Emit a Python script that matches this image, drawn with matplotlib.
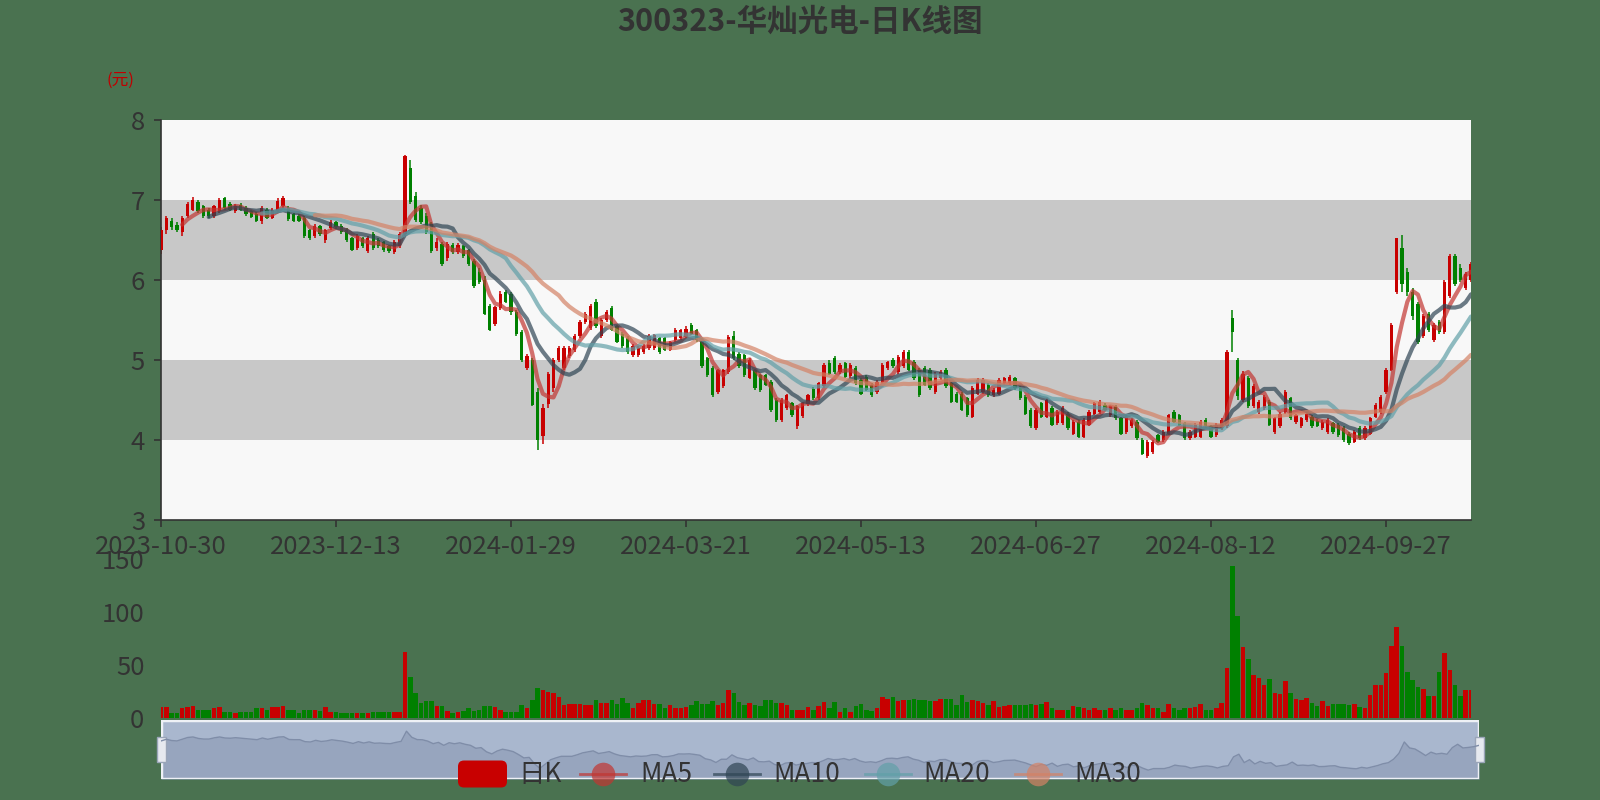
import matplotlib
matplotlib.use("Agg")
import matplotlib.pyplot as plt
from matplotlib.patches import Rectangle, FancyBboxPatch
from matplotlib.lines import Line2D
from matplotlib.transforms import IdentityTransform
import numpy as np
import pandas as pd

plt.rcParams['font.family'] = ['Noto Sans CJK SC', 'DejaVu Sans']

TITLE = "300323-华灿光电-日K线图"
tick_labels = ["2023-10-30", "2023-12-13", "2024-01-29", "2024-03-21",
               "2024-05-13", "2024-06-27", "2024-08-12", "2024-09-27"]
tick_step = 33

opens = [
    6.38, 6.62, 6.74, 6.69, 6.60, 6.80, 6.88, 6.98, 6.92, 6.88,
    6.80, 6.86, 7.02, 6.95, 6.86, 6.94, 6.90, 6.86, 6.83, 6.74,
    6.88, 6.78, 6.86, 6.92, 6.90, 6.82, 6.80, 6.78, 6.62, 6.55,
    6.67, 6.50, 6.65, 6.72, 6.68, 6.63, 6.52, 6.40, 6.52, 6.36,
    6.58, 6.50, 6.47, 6.42, 6.35, 6.42, 6.58, 7.40, 7.05, 6.90,
    6.80, 6.70, 6.40, 6.45, 6.27, 6.44, 6.35, 6.42, 6.37, 6.24,
    6.10, 6.00, 5.68, 5.45, 5.65, 5.85, 5.83, 5.60, 5.35, 4.90,
    5.00, 4.60, 4.05, 4.45, 4.65, 5.00, 4.90, 5.05, 5.12, 5.30,
    5.48, 5.40, 5.72, 5.30, 5.50, 5.65, 5.42, 5.33, 5.28, 5.06,
    5.06, 5.10, 5.15, 5.15, 5.27, 5.27, 5.13, 5.25, 5.27, 5.29,
    5.44, 5.37, 5.25, 5.02, 4.90, 4.60, 4.67, 4.85, 5.30, 5.08,
    5.06, 4.78, 4.87, 4.81, 4.81, 4.73, 4.50, 4.25, 4.40, 4.46,
    4.18, 4.30, 4.45, 4.64, 4.52, 4.67, 4.96, 5.02, 4.85, 4.96,
    4.80, 4.90, 4.75, 4.79, 4.69, 4.60, 4.73, 4.90, 5.00, 4.85,
    4.92, 5.10, 4.98, 4.88, 4.90, 4.88, 4.60, 4.77, 4.88, 4.71,
    4.58, 4.58, 4.52, 4.29, 4.58, 4.60, 4.69, 4.56, 4.58, 4.71,
    4.71, 4.77, 4.65, 4.54, 4.38, 4.15, 4.46, 4.29, 4.40, 4.21,
    4.21, 4.33, 4.08, 4.23, 4.04, 4.19, 4.33, 4.35, 4.44, 4.31,
    4.42, 4.27, 4.10, 4.17, 4.23, 4.00, 3.80, 3.85, 4.06, 4.00,
    4.08, 4.35, 4.31, 4.21, 4.02, 4.04, 4.04, 4.25, 4.17, 4.06,
    4.15, 4.18, 5.52, 5.00, 4.50, 4.77, 4.42, 4.35, 4.40, 4.48,
    4.10, 4.17, 4.35, 4.52, 4.22, 4.17, 4.25, 4.29, 4.24, 4.15,
    4.10, 4.21, 4.19, 4.15, 4.08, 3.98, 4.15, 4.02, 4.08, 4.29,
    4.35, 4.60, 4.88, 5.85, 6.40, 6.10, 5.85, 5.70, 5.30, 5.58,
    5.25, 5.48, 5.35, 5.80, 6.30, 6.15, 5.90, 6.00,
]
closes = [
    6.62, 6.78, 6.66, 6.62, 6.78, 6.95, 7.00, 6.86, 6.80, 6.80,
    6.92, 7.00, 6.90, 6.88, 6.93, 6.88, 6.82, 6.79, 6.74, 6.90,
    6.78, 6.88, 6.99, 7.02, 6.76, 6.74, 6.74, 6.55, 6.52, 6.68,
    6.57, 6.62, 6.73, 6.66, 6.60, 6.50, 6.38, 6.55, 6.42, 6.53,
    6.40, 6.42, 6.38, 6.36, 6.48, 6.58, 7.55, 6.97, 6.75, 6.73,
    6.60, 6.36, 6.48, 6.20, 6.45, 6.35, 6.44, 6.30, 6.20, 5.92,
    5.98, 5.58, 5.38, 5.66, 5.83, 5.73, 5.60, 5.32, 5.00, 5.05,
    4.44, 4.00, 4.40, 4.82, 5.00, 5.15, 5.15, 5.15, 5.30, 5.48,
    5.57, 5.67, 5.42, 5.50, 5.60, 5.38, 5.23, 5.17, 5.10, 5.18,
    5.15, 5.18, 5.30, 5.31, 5.10, 5.13, 5.22, 5.38, 5.37, 5.39,
    5.33, 5.25, 4.92, 4.81, 4.56, 4.87, 4.87, 5.29, 5.02, 4.92,
    4.81, 5.00, 4.65, 4.62, 4.69, 4.37, 4.25, 4.50, 4.56, 4.31,
    4.42, 4.46, 4.56, 4.52, 4.71, 4.94, 4.83, 4.85, 4.94, 4.79,
    4.94, 4.71, 4.58, 4.63, 4.56, 4.73, 4.94, 4.97, 4.92, 5.04,
    5.10, 4.88, 4.77, 4.56, 4.69, 4.65, 4.83, 4.85, 4.67, 4.48,
    4.48, 4.38, 4.31, 4.65, 4.75, 4.75, 4.56, 4.63, 4.75, 4.77,
    4.79, 4.65, 4.52, 4.33, 4.17, 4.38, 4.29, 4.50, 4.19, 4.35,
    4.40, 4.15, 4.23, 4.04, 4.25, 4.35, 4.46, 4.48, 4.38, 4.42,
    4.27, 4.08, 4.29, 4.25, 4.02, 3.83, 3.98, 3.98, 3.98, 4.10,
    4.31, 4.23, 4.19, 4.02, 4.10, 4.19, 4.23, 4.17, 4.04, 4.19,
    4.25, 5.10, 5.35, 4.55, 4.83, 4.42, 4.67, 4.48, 4.54, 4.19,
    4.27, 4.33, 4.60, 4.28, 4.31, 4.27, 4.33, 4.17, 4.18, 4.23,
    4.25, 4.10, 4.06, 4.00, 3.96, 4.10, 4.02, 4.15, 4.27, 4.44,
    4.54, 4.88, 5.44, 6.52, 5.95, 5.85, 5.55, 5.22, 5.55, 5.37,
    5.44, 5.35, 5.98, 6.30, 5.95, 6.00, 6.07, 6.20,
]
highs = [
    6.66, 6.80, 6.77, 6.72, 6.80, 6.98, 7.04, 7.00, 6.94, 6.90,
    6.94, 7.03, 7.04, 6.97, 6.95, 6.96, 6.92, 6.88, 6.85, 6.92,
    6.90, 6.90, 7.02, 7.05, 6.92, 6.84, 6.82, 6.80, 6.64, 6.70,
    6.69, 6.64, 6.75, 6.74, 6.70, 6.65, 6.54, 6.57, 6.54, 6.55,
    6.60, 6.52, 6.49, 6.44, 6.50, 6.60, 7.56, 7.50, 7.10, 6.94,
    6.84, 6.72, 6.52, 6.47, 6.47, 6.46, 6.46, 6.44, 6.39, 6.26,
    6.15, 6.05, 5.70, 5.68, 5.86, 5.87, 5.85, 5.62, 5.37, 5.08,
    5.02, 4.65, 4.45, 4.85, 5.02, 5.17, 5.17, 5.18, 5.32, 5.50,
    5.60, 5.70, 5.76, 5.52, 5.63, 5.67, 5.44, 5.35, 5.30, 5.20,
    5.17, 5.20, 5.32, 5.33, 5.29, 5.29, 5.24, 5.40, 5.39, 5.42,
    5.46, 5.39, 5.27, 5.04, 4.92, 4.89, 4.89, 5.31, 5.36, 5.10,
    5.08, 5.02, 4.89, 4.83, 4.83, 4.75, 4.52, 4.52, 4.58, 4.48,
    4.44, 4.48, 4.58, 4.66, 4.73, 4.96, 5.00, 5.05, 4.96, 4.98,
    4.96, 4.92, 4.77, 4.81, 4.71, 4.75, 4.96, 4.99, 5.02, 5.06,
    5.12, 5.12, 5.00, 4.90, 4.92, 4.90, 4.85, 4.87, 4.90, 4.73,
    4.60, 4.60, 4.54, 4.67, 4.77, 4.77, 4.71, 4.65, 4.77, 4.79,
    4.81, 4.79, 4.67, 4.56, 4.40, 4.40, 4.48, 4.52, 4.42, 4.37,
    4.42, 4.35, 4.25, 4.25, 4.27, 4.37, 4.48, 4.50, 4.46, 4.44,
    4.44, 4.29, 4.31, 4.27, 4.25, 4.02, 4.00, 4.00, 4.08, 4.12,
    4.33, 4.37, 4.33, 4.23, 4.12, 4.21, 4.25, 4.27, 4.19, 4.21,
    4.27, 5.12, 5.62, 5.02, 4.86, 4.80, 4.70, 4.50, 4.56, 4.50,
    4.29, 4.35, 4.62, 4.54, 4.33, 4.29, 4.35, 4.31, 4.26, 4.25,
    4.27, 4.23, 4.21, 4.17, 4.10, 4.12, 4.17, 4.17, 4.29, 4.46,
    4.56, 4.90, 5.46, 6.53, 6.56, 6.15, 5.90, 5.72, 5.58, 5.60,
    5.46, 5.50, 6.00, 6.32, 6.32, 6.20, 6.10, 6.22,
]
lows = [
    6.33, 6.58, 6.63, 6.60, 6.55, 6.78, 6.86, 6.84, 6.78, 6.78,
    6.78, 6.84, 6.88, 6.86, 6.84, 6.86, 6.80, 6.77, 6.72, 6.70,
    6.76, 6.76, 6.84, 6.90, 6.74, 6.72, 6.72, 6.53, 6.50, 6.53,
    6.55, 6.46, 6.63, 6.64, 6.58, 6.48, 6.36, 6.38, 6.40, 6.34,
    6.38, 6.40, 6.35, 6.34, 6.33, 6.40, 6.55, 6.95, 6.73, 6.70,
    6.58, 6.34, 6.36, 6.18, 6.24, 6.33, 6.32, 6.28, 6.18, 5.90,
    5.95, 5.56, 5.36, 5.43, 5.63, 5.71, 5.56, 5.30, 4.98, 4.87,
    4.42, 3.88, 3.95, 4.40, 4.60, 4.97, 4.88, 5.03, 5.10, 5.28,
    5.45, 5.38, 5.40, 5.28, 5.48, 5.36, 5.21, 5.15, 5.08, 5.04,
    5.04, 5.08, 5.12, 5.12, 5.08, 5.11, 5.11, 5.23, 5.25, 5.27,
    5.31, 5.23, 4.90, 4.79, 4.54, 4.58, 4.65, 4.83, 5.00, 4.90,
    4.79, 4.76, 4.63, 4.60, 4.67, 4.35, 4.23, 4.23, 4.38, 4.29,
    4.14, 4.28, 4.43, 4.50, 4.50, 4.65, 4.81, 4.83, 4.83, 4.77,
    4.78, 4.69, 4.56, 4.61, 4.54, 4.58, 4.71, 4.88, 4.90, 4.83,
    4.90, 4.86, 4.75, 4.54, 4.67, 4.63, 4.58, 4.75, 4.65, 4.46,
    4.46, 4.36, 4.29, 4.27, 4.56, 4.58, 4.54, 4.54, 4.56, 4.69,
    4.69, 4.63, 4.50, 4.31, 4.15, 4.13, 4.27, 4.27, 4.17, 4.19,
    4.19, 4.13, 4.06, 4.02, 4.02, 4.17, 4.31, 4.33, 4.36, 4.29,
    4.25, 4.06, 4.08, 4.15, 4.00, 3.81, 3.78, 3.83, 3.96, 3.98,
    4.06, 4.21, 4.17, 4.00, 4.00, 4.02, 4.02, 4.15, 4.02, 4.04,
    4.13, 4.15, 5.10, 4.50, 4.48, 4.40, 4.40, 4.33, 4.38, 4.17,
    4.08, 4.15, 4.33, 4.25, 4.20, 4.15, 4.23, 4.15, 4.16, 4.13,
    4.08, 4.08, 4.04, 3.98, 3.94, 3.96, 4.00, 4.00, 4.06, 4.27,
    4.33, 4.58, 4.86, 5.83, 5.85, 5.80, 5.50, 5.20, 5.28, 5.35,
    5.22, 5.33, 5.33, 5.78, 5.93, 5.98, 5.88, 5.98,
]
volumes = [
    10, 10, 5, 5, 9, 10, 11, 8, 8, 8,
    9, 10, 6, 6, 5, 6, 6, 6, 9, 9,
    8, 10, 10, 11, 8, 8, 5, 8, 8, 8,
    7, 10, 6, 6, 5, 5, 5, 5, 5, 5,
    6, 6, 6, 6, 6, 6, 62, 39, 24, 14,
    16, 16, 11, 11, 7, 5, 6, 7, 9, 7,
    8, 11, 11, 10, 8, 6, 6, 6, 12, 9,
    17, 28, 26, 25, 24, 20, 12, 13, 13, 13,
    12, 12, 17, 14, 14, 17, 13, 19, 14, 9,
    14, 17, 17, 13, 13, 9, 12, 9, 9, 10,
    12, 16, 13, 13, 16, 12, 14, 26, 24, 15,
    12, 14, 12, 11, 17, 17, 14, 14, 12, 8,
    8, 8, 10, 8, 11, 15, 9, 15, 6, 9,
    6, 11, 13, 8, 7, 9, 20, 18, 20, 16,
    17, 17, 18, 17, 17, 16, 16, 18, 18, 18,
    12, 22, 15, 17, 16, 14, 12, 16, 10, 11,
    12, 12, 12, 12, 13, 12, 13, 15, 9, 8,
    8, 8, 11, 10, 9, 8, 9, 8, 8, 9,
    8, 9, 8, 8, 9, 14, 12, 9, 9, 6,
    13, 9, 8, 9, 9, 10, 13, 8, 8, 9,
    14, 47, 143, 96, 67, 56, 41, 38, 31, 37,
    24, 23, 35, 24, 18, 17, 19, 14, 11, 16,
    11, 13, 13, 13, 12, 13, 10, 9, 22, 31,
    31, 42, 68, 86, 68, 43, 36, 29, 27, 21,
    21, 43, 61, 45, 31, 21, 26, 26,
]
ma_windows = [5, 10, 20, 30]
ma_names = ["MA5", "MA10", "MA20", "MA30"]

BG = "#4a7250"
UP = "#c80000"
DOWN = "#008000"
TXT = "#333333"
MA_COLORS = ["#c23531", "#2f4554", "#61a0a8", "#d48265"]

W, H = 1600, 800


def fig_rect(left, top, right, bottom):
    # pixel box (from top-left) -> figure fraction [l, b, w, h]
    return [left / W, 1 - bottom / H, (right - left) / W, (bottom - top) / H]


o = np.array(opens)
c = np.array(closes)
hi = np.array(highs)
lo = np.array(lows)
n = len(c)
x = np.arange(n)
cols = [UP if cc >= oo else DOWN for oo, cc in zip(o, c)]

fig = plt.figure(figsize=(16, 8), dpi=100, facecolor=BG)

# ---- price panel
ax = fig.add_axes(fig_rect(161, 120, 1471, 520))
ax.set_facecolor("#f8f8f8")
for k, y0 in enumerate(range(3, 8)):
    ax.axhspan(y0, y0 + 1, color="#c8c8c8" if k in (1, 3) else "#f8f8f8",
               lw=0, zorder=0)

ax.vlines(x, lo, hi, colors=cols, linewidth=1.1, zorder=2)
body = np.maximum(np.abs(c - o), 0.012)
ax.bar(x, body, bottom=np.minimum(o, c), width=0.62, color=cols,
       linewidth=0, zorder=3)

s = pd.Series(c)
for win, col in zip(ma_windows, MA_COLORS):
    ax.plot(x, s.rolling(win).mean(), color=col, lw=3, alpha=0.7,
            solid_capstyle="round", zorder=4)

ax.set_xlim(0, n - 1)
ax.set_ylim(3, 8)
ax.set_yticks(range(3, 9))
ax.set_xticks(np.arange(len(tick_labels)) * tick_step)
ax.set_xticklabels(tick_labels)
for sp in ("top", "right"):
    ax.spines[sp].set_visible(False)
for sp in ("left", "bottom"):
    ax.spines[sp].set_color(TXT)
    ax.spines[sp].set_linewidth(1.2)
ax.tick_params(axis="both", colors=TXT, labelsize=18.5, length=5, width=1.2)
ax.tick_params(axis="y", pad=6.5)
ax.tick_params(axis="x", pad=5)

# ---- volume panel
vax = fig.add_axes(fig_rect(161, 559, 1471, 718))
vax.set_facecolor("none")
vax.bar(x, volumes, width=0.85, color=cols, linewidth=0)
vax.set_xlim(0, n - 1)
vax.set_ylim(0, 150)
vax.set_yticks([0, 50, 100, 150])
vax.set_xticks([])
for sp in vax.spines.values():
    sp.set_visible(False)
vax.tick_params(axis="y", colors=TXT, labelsize=18.5, length=0, pad=12)

# ---- data zoom slider
sax = fig.add_axes(fig_rect(161, 720, 1479, 779))
sax.set_xlim(0, 1)
sax.set_ylim(0, 1)
sax.axis("off")
sax.add_patch(Rectangle((0, 0), 1, 1, facecolor="#a9b7ce", edgecolor="none"))
xs = np.linspace(0, 1, n)
ys = 0.15 + (c - c.min()) / (c.max() - c.min()) * 0.66
sax.fill_between(xs, 0, ys, color="#97a5be", lw=0)
sax.plot(xs, ys, color="#7f8da8", lw=1)
sax.add_patch(Rectangle((0, 0), 1, 1, facecolor="none", edgecolor="#eef1f6",
                        lw=2.5))
for hx in (0, 1):
    sax.add_patch(Rectangle((hx - 4.5 / 1318, 0.28), 9 / 1318, 0.44,
                            facecolor="#e6e9ef", edgecolor="#9aa5b8", lw=1,
                            clip_on=False))
sax.set_zorder(1)

# ---- legend (drawn by hand in pixel coordinates)
ly = H - 774
tr = IdentityTransform()
rect = FancyBboxPatch((458, ly - 13.5), 49, 27,
                      boxstyle="round,pad=0,rounding_size=6",
                      facecolor=UP, edgecolor="none", transform=tr, zorder=20)
fig.patches.append(rect)
fig.text(518 / W, ly / H, "日K", color=TXT, fontsize=19, va="center",
         ha="left", zorder=21)
icon_x = [580, 714, 865, 1015]
text_x = [640, 773, 923, 1074]
for ix, tx, col, name in zip(icon_x, text_x, MA_COLORS, ma_names):
    fig.add_artist(Line2D([ix, ix + 46], [ly, ly], color=col, lw=2,
                          alpha=0.7, transform=tr, zorder=20))
    fig.add_artist(Line2D([ix + 23], [ly], marker="o", markersize=17,
                          color=col, alpha=0.7, markeredgewidth=0,
                          transform=tr, zorder=20))
    fig.text(tx / W, ly / H, name, color=TXT, fontsize=19, va="center",
             ha="left", zorder=21)

# ---- titles
fig.text(0.5, 1 - 22 / H, TITLE, ha="center", va="center", fontsize=22,
         fontweight="bold", color=TXT)
fig.text(120 / W, 1 - 80 / H, "(元)", ha="center", va="center", fontsize=12,
         color="#c00000")

fig.savefig("out.png", dpi=100, facecolor=BG)
